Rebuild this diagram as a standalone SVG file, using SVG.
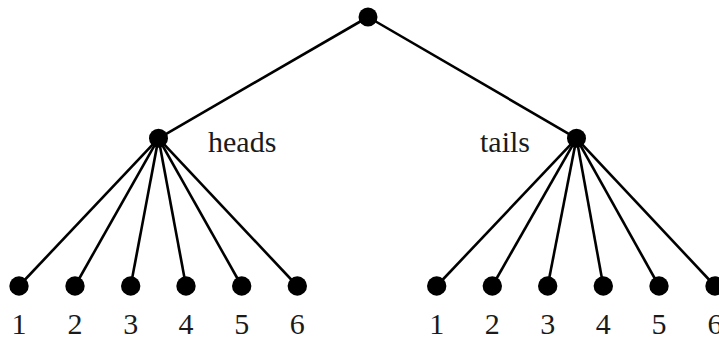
<svg xmlns="http://www.w3.org/2000/svg" width="719" height="337" viewBox="0 0 719 337">
  <style>
    .edge { stroke: #000; stroke-width: 2.6; fill: none; }
    .dot { fill: #000; }
    .lbl { font-family: "Liberation Serif", "Times New Roman", serif; font-size: 30px; fill: #1a1a1a; }
    .num { text-anchor: middle; }
  </style>
  <rect width="719" height="337" fill="#fff"/>
  <g id="connectors">
    <line class="edge" x1="368" y1="17" x2="158.5" y2="138.3"/>
    <line class="edge" x1="368" y1="17" x2="576.5" y2="138.3"/>
    <line class="edge" x1="158.5" y1="138.3" x2="19" y2="286"/>
    <line class="edge" x1="158.5" y1="138.3" x2="75" y2="286"/>
    <line class="edge" x1="158.5" y1="138.3" x2="130.7" y2="286"/>
    <line class="edge" x1="158.5" y1="138.3" x2="186" y2="286"/>
    <line class="edge" x1="158.5" y1="138.3" x2="241.7" y2="286"/>
    <line class="edge" x1="158.5" y1="138.3" x2="297.3" y2="286"/>
    <line class="edge" x1="576.5" y1="138.3" x2="436.7" y2="286"/>
    <line class="edge" x1="576.5" y1="138.3" x2="492.3" y2="286"/>
    <line class="edge" x1="576.5" y1="138.3" x2="547.7" y2="286"/>
    <line class="edge" x1="576.5" y1="138.3" x2="603.3" y2="286"/>
    <line class="edge" x1="576.5" y1="138.3" x2="659" y2="286"/>
    <line class="edge" x1="576.5" y1="138.3" x2="715" y2="286"/>
  </g>
  <g id="root"><circle class="dot" cx="368" cy="17" r="9.5"/></g>
  <g id="heads">
    <circle class="dot" cx="158.5" cy="138.3" r="9.5"/>
    <text class="lbl" x="208" y="151.7">heads</text>
  </g>
  <g id="tails">
    <circle class="dot" cx="576.5" cy="138.3" r="9.5"/>
    <text class="lbl" x="480" y="151.7">tails</text>
  </g>
  <g id="h1"><circle class="dot" cx="19" cy="286" r="9.7"/><text class="lbl num" x="19" y="334">1</text></g>
  <g id="h2"><circle class="dot" cx="75" cy="286" r="9.7"/><text class="lbl num" x="75" y="334">2</text></g>
  <g id="h3"><circle class="dot" cx="130.7" cy="286" r="9.7"/><text class="lbl num" x="130.7" y="334">3</text></g>
  <g id="h4"><circle class="dot" cx="186" cy="286" r="9.7"/><text class="lbl num" x="186" y="334">4</text></g>
  <g id="h5"><circle class="dot" cx="241.7" cy="286" r="9.7"/><text class="lbl num" x="241.7" y="334">5</text></g>
  <g id="h6"><circle class="dot" cx="297.3" cy="286" r="9.7"/><text class="lbl num" x="297.3" y="334">6</text></g>
  <g id="t1"><circle class="dot" cx="436.7" cy="286" r="9.7"/><text class="lbl num" x="436.7" y="334">1</text></g>
  <g id="t2"><circle class="dot" cx="492.3" cy="286" r="9.7"/><text class="lbl num" x="492.3" y="334">2</text></g>
  <g id="t3"><circle class="dot" cx="547.7" cy="286" r="9.7"/><text class="lbl num" x="547.7" y="334">3</text></g>
  <g id="t4"><circle class="dot" cx="603.3" cy="286" r="9.7"/><text class="lbl num" x="603.3" y="334">4</text></g>
  <g id="t5"><circle class="dot" cx="659" cy="286" r="9.7"/><text class="lbl num" x="659" y="334">5</text></g>
  <g id="t6"><circle class="dot" cx="715" cy="286" r="9.7"/><text class="lbl num" x="715" y="334">6</text></g>
</svg>
